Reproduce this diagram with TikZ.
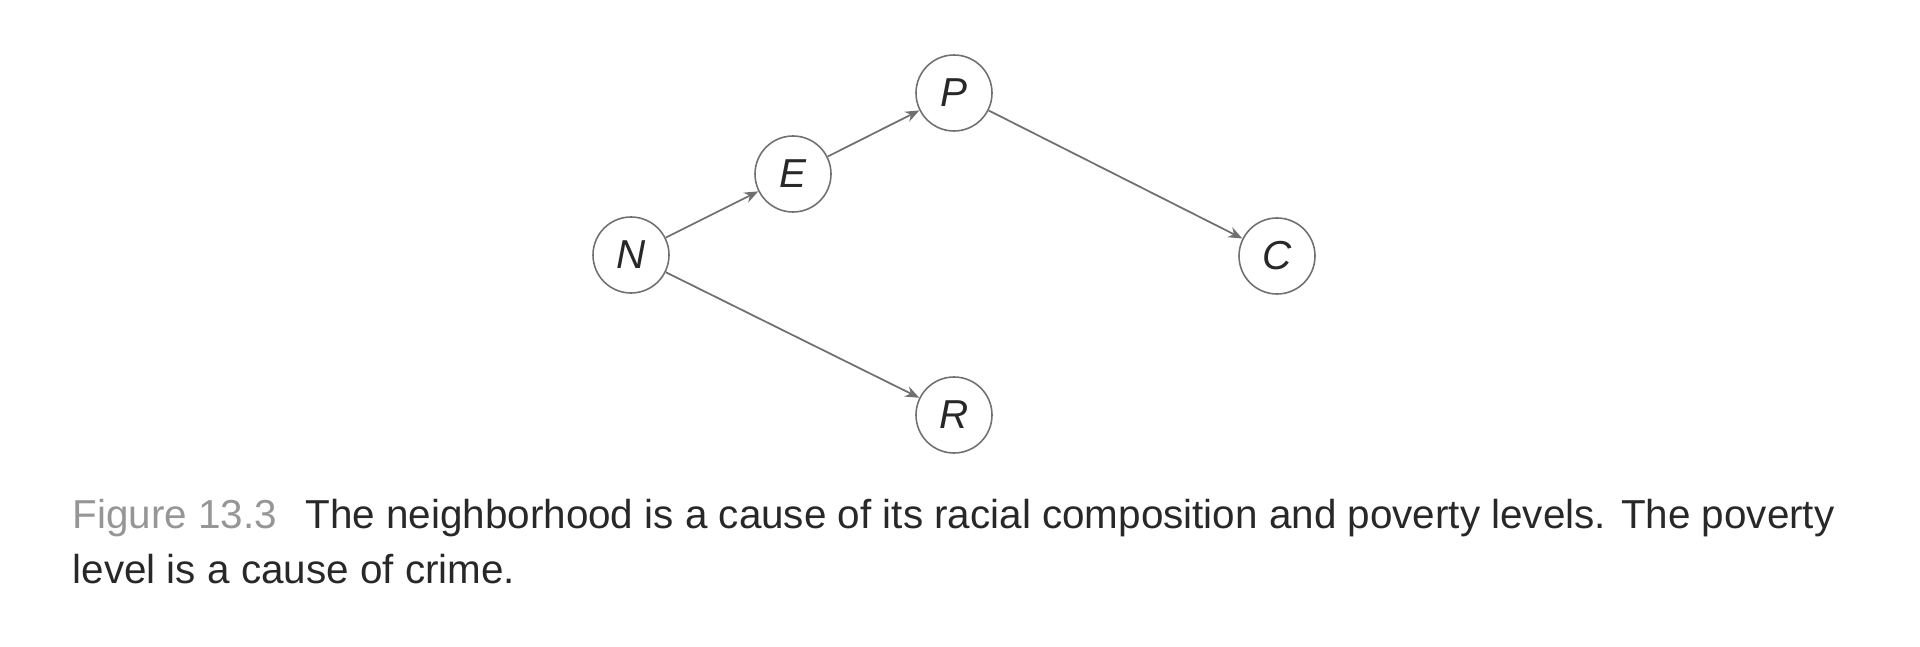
\documentclass[tikz,border=0pt]{standalone}
\usepackage{fontspec}
\setmainfont{Liberation Sans}
\usepackage{xcolor}
\usetikzlibrary{arrows.meta}

\definecolor{edgegray}{RGB}{112,112,112}
\definecolor{figgray}{RGB}{150,150,150}
\definecolor{textdark}{RGB}{40,40,40}

\begin{document}
\begin{tikzpicture}[
    var/.style={circle, draw=edgegray, line width=0.45pt, minimum size=0.76cm,
      inner sep=0pt, font=\fontsize{11.5}{14}\selectfont\itshape, text=textdark},
    cause/.style={draw=edgegray, line width=0.5pt, -{Stealth[length=1.4mm, width=1.1mm]}},
    captext/.style={anchor=base west, inner sep=0pt, text=textdark,
      font=\fontsize{11.5}{15.4}\selectfont}
  ]
  \useasboundingbox (0,0) rectangle (19.2,-6.47);

  % Place the variables
  \node[var] (N) at (6.31,-2.55) {N};
  \node[var] (E) at (7.93,-1.74) {E};
  \node[var] (P) at (9.54,-0.93) {P};
  \node[var] (C) at (12.77,-2.56) {C};
  \node[var] (R) at (9.54,-4.15) {R};

  % Draw the causal arrows
  \draw[cause] (N) -- (E);
  \draw[cause] (E) -- (P);
  \draw[cause] (P) -- (C);
  \draw[cause] (N) -- (R);

  % Caption below the graph
  \node[captext] (cap1) at (0.72,-5.29) {\textcolor{figgray}{Figure 13.3}\hspace{0.7em}The neighborhood is a cause of its racial composition and poverty levels. The poverty};
  \node[captext] (cap2) at (0.72,-5.83) {level is a cause of crime.};
\end{tikzpicture}
\end{document}
